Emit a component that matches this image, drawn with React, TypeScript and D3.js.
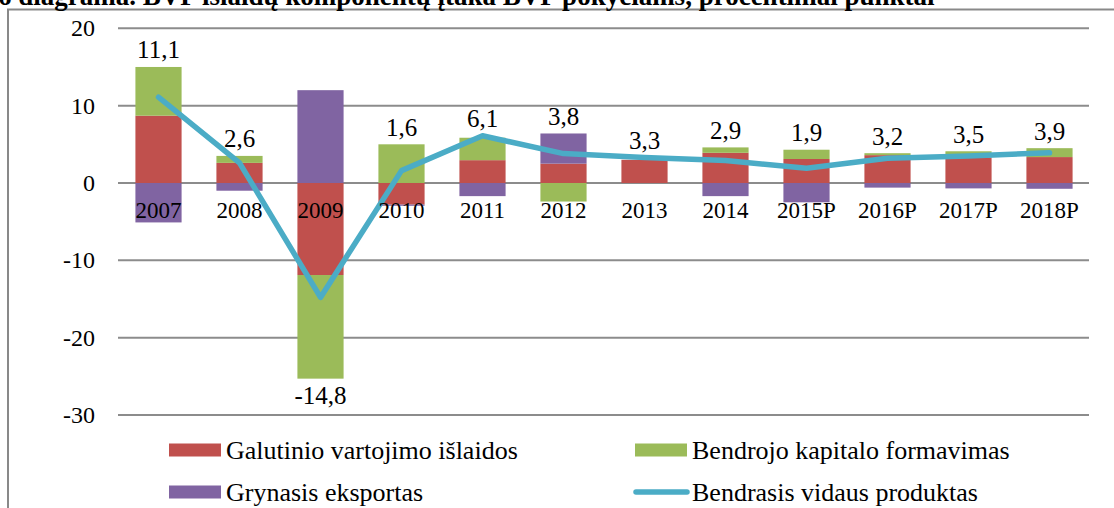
import React, { useEffect, useRef } from 'react';
import * as d3 from 'd3';

const years = ['2007', '2008', '2009', '2010', '2011', '2012', '2013', '2014', '2015P', '2016P', '2017P', '2018P'];
const consumption = [8.7, 2.6, -11.9, -2.8, 2.95, 2.5, 3.0, 3.9, 3.1, 3.6, 3.3, 3.35];
const capital = [6.3, 0.9, -13.4, 5.0, 2.9, -2.4, 0, 0.7, 1.2, 0.25, 0.8, 1.15];
const netExports = [-5.1, -1.0, 12.0, -0.15, -1.7, 3.9, 0, -1.7, -2.5, -0.6, -0.7, -0.75];
const gdp = [11.1, 2.6, -14.8, 1.6, 6.1, 3.8, 3.3, 2.9, 1.9, 3.2, 3.5, 3.9];
const yTicks = [20, 10, 0, -10, -20, -30];

const TITLE = '6 diagrama. BVP išlaidų komponentų įtaka BVP pokyčiams, procentiniai punktai';
const SERIES = [
  { key: 'consumption', label: 'Galutinio vartojimo išlaidos', color: '#C0504D' },
  { key: 'capital', label: 'Bendrojo kapitalo formavimas', color: '#9BBB59' },
  { key: 'netExports', label: 'Grynasis eksportas', color: '#8064A2' },
];
const LINE_COLOR = '#4BACC6';
const FONT = '"Liberation Serif", "Times New Roman", serif';

const locale = d3.formatLocale({ decimal: ',', thousands: ' ', grouping: [3], currency: ['', ''], minus: '-' });
const fmtValue = locale.format('.1f');
const fmtTick = locale.format('d');

const App = () => {
  const ref = useRef<SVGSVGElement>(null);

  useEffect(() => {
    const svg = d3.select(ref.current);
    svg.selectAll('*').remove();

    const x = d3.scaleBand().domain(years).range([118, 1090]).paddingInner(0.43).paddingOuter(0.215);
    const y = d3.scaleLinear().domain([-30, 20]).range([415, 28.3]);

    const rows = years.map((year, i) => ({
      year,
      consumption: consumption[i],
      capital: capital[i],
      netExports: netExports[i],
    }));
    const stacked = d3
      .stack<any>()
      .keys(SERIES.map(s => s.key))
      .offset(d3.stackOffsetDiverging)(rows);

    // rėmelis
    svg
      .append('rect')
      .attr('x', 8)
      .attr('y', 9.5)
      .attr('width', 1200)
      .attr('height', 600)
      .attr('fill', 'white')
      .attr('stroke', '#898989')
      .attr('stroke-width', 2);

    svg
      .append('text')
      .attr('x', -2)
      .attr('y', 5)
      .attr('font-weight', 'bold')
      .attr('font-size', 27)
      .text(TITLE);

    // tinklelis
    svg
      .append('g')
      .selectAll('line')
      .data(yTicks)
      .join('line')
      .attr('x1', 118)
      .attr('x2', 1089)
      .attr('y1', d => y(d))
      .attr('y2', d => y(d))
      .attr('stroke', '#8c8c8c')
      .attr('stroke-width', 2);

    svg
      .append('g')
      .selectAll('text')
      .data(yTicks)
      .join('text')
      .attr('x', 95)
      .attr('y', d => y(d))
      .attr('dy', '0.34em')
      .attr('text-anchor', 'end')
      .attr('font-size', 24)
      .text(d => fmtTick(d));

    const layers = svg
      .append('g')
      .selectAll('g')
      .data(stacked)
      .join('g')
      .attr('fill', (d, i) => SERIES[i].color);

    layers
      .selectAll('rect')
      .data(d => d)
      .join('rect')
      .attr('x', (d: any) => x(d.data.year)!)
      .attr('width', x.bandwidth())
      .attr('y', d => y(Math.max(d[0], d[1])))
      .attr('height', d => Math.abs(y(d[0]) - y(d[1])));

    const line = d3
      .line<number>()
      .x((d, i) => x(years[i])! + x.bandwidth() / 2)
      .y(d => y(d));

    svg
      .append('path')
      .datum(gdp)
      .attr('d', line)
      .attr('fill', 'none')
      .attr('stroke', LINE_COLOR)
      .attr('stroke-width', 5.5)
      .attr('stroke-linejoin', 'round')
      .attr('stroke-linecap', 'round');

    svg
      .append('g')
      .selectAll('text')
      .data(years)
      .join('text')
      .attr('x', d => x(d)! + x.bandwidth() / 2)
      .attr('y', y(0) + 35)
      .attr('text-anchor', 'middle')
      .attr('font-size', 23)
      .text(d => d);

    // reikšmių etiketės virš stulpelio arba po juo
    const top = (i: number) => Math.max(0, ...stacked.map(s => s[i][1]), gdp[i]);
    const bottom = (i: number) => Math.min(0, ...stacked.map(s => s[i][0]));
    svg
      .append('g')
      .selectAll('text')
      .data(gdp)
      .join('text')
      .attr('x', (d, i) => x(years[i])! + x.bandwidth() / 2)
      .attr('y', (d, i) => (d < 0 ? y(bottom(i)) + 17 : y(top(i)) - 17))
      .attr('dy', '0.34em')
      .attr('text-anchor', 'middle')
      .attr('font-size', 25)
      .text(d => fmtValue(d));

    // legenda
    const legendItems = [
      { ...SERIES[0], lx: 169, ly: 450 },
      { ...SERIES[1], lx: 635, ly: 450 },
      { ...SERIES[2], lx: 169, ly: 492 },
      { key: 'gdp', label: 'Bendrasis vidaus produktas', color: LINE_COLOR, lx: 635, ly: 492 },
    ];
    const legend = svg
      .append('g')
      .selectAll('g')
      .data(legendItems)
      .join('g')
      .attr('transform', d => `translate(${d.lx},${d.ly})`);

    legend
      .filter(d => d.key !== 'gdp')
      .append('rect')
      .attr('y', -6.5)
      .attr('width', 52)
      .attr('height', 13)
      .attr('fill', d => d.color);

    legend
      .filter(d => d.key === 'gdp')
      .append('line')
      .attr('x1', 1)
      .attr('x2', 52)
      .attr('stroke', LINE_COLOR)
      .attr('stroke-width', 5.5)
      .attr('stroke-linecap', 'round');

    legend
      .append('text')
      .attr('x', 57)
      .attr('dy', '0.34em')
      .attr('font-size', 26)
      .text(d => d.label);
  }, []);

  return (
    <svg
      ref={ref}
      width={1114}
      height={508}
      fontFamily={FONT}
      style={{ position: 'absolute', left: 0, top: 0, background: 'white' }}
    />
  );
};

export default App;
